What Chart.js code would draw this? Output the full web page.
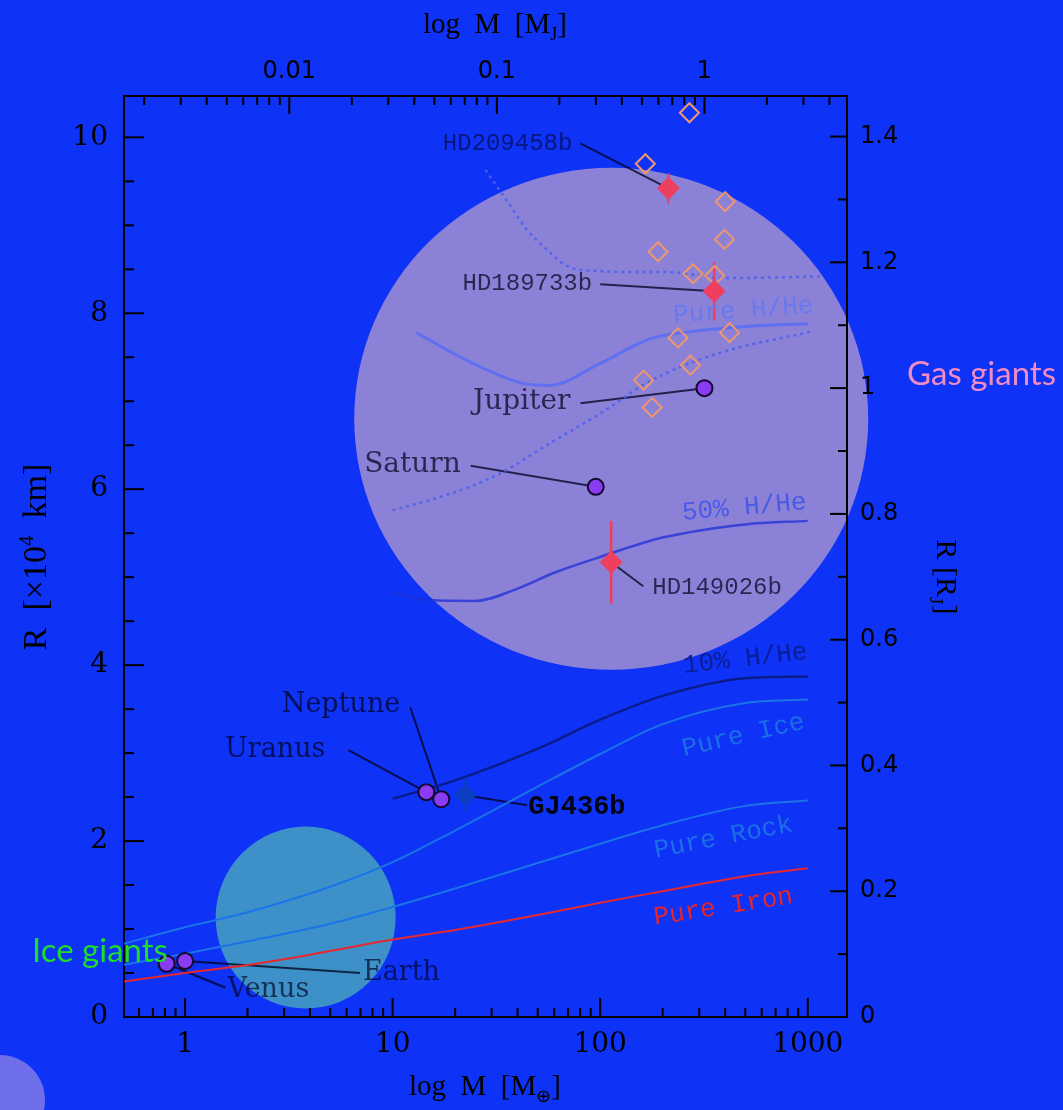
<!DOCTYPE html>
<html>
<head>
<meta charset="utf-8">
<script src="https://cdn.jsdelivr.net/npm/chart.js@4.4.1/dist/chart.umd.min.js"></script>
<style>
  html, body { margin: 0; padding: 0; background: #0e32f6; }
  #wrap { width: 1063px; height: 1110px; position: relative; }
</style>
</head>
<body>
<div id="wrap"><canvas id="chart"></canvas></div>
<script>
// ===== DATA =====
const ME_PER_MJ = 317.83;      // Earth masses in one Jupiter mass
const KM4_PER_RJ = 7.1492;     // Jupiter radius in 10^4 km

const xMin = 0.508, xMax = 1545;
const yMin = 0, yMax = 10.47;

const bottomTicks = [1, 10, 100, 1000];
const topTicks = [0.01, 0.1, 1];
const leftTicks = [0, 2, 4, 6, 8, 10];
const rightTicks = [0, 0.2, 0.4, 0.6, 0.8, 1, 1.2, 1.4];

// solar system planets
const solarNames = ['Venus', 'Earth', 'Uranus', 'Neptune', 'Saturn', 'Jupiter'];
const solarMass = [0.815, 1, 14.54, 17.15, 95.16, 317.8];
const solarRadius = [0.605, 0.637, 2.556, 2.476, 6.027, 7.149];

// labelled transiting planets
const hotNames = ['HD209458b', 'HD189733b', 'HD149026b', 'GJ436b'];
const hotMass = [213, 354, 113, 22.4];
const hotRadius = [9.42, 8.25, 5.17, 2.52];
const hotErr = [0.17, 0.33, 0.47, 0.2];

// other transiting planets (open diamonds)
const otherMass = [269, 165, 400, 397, 190, 280, 356, 420, 237, 272, 162, 178];
const otherRadius = [10.28, 9.70, 9.27, 8.84, 8.70, 8.45, 8.43, 7.78, 7.72, 7.41, 7.24, 6.93];

// model curves
const solidMass = [0.5, 1, 2, 5, 10, 20, 50, 100, 200, 500, 1000];
const ironRadius = [0.40, 0.50, 0.59, 0.75, 0.88, 0.99, 1.16, 1.30, 1.43, 1.60, 1.69];
const rockRadius = [0.59, 0.72, 0.86, 1.06, 1.25, 1.46, 1.75, 1.97, 2.18, 2.40, 2.46];
const iceRadius = [0.83, 1.02, 1.19, 1.48, 1.76, 2.12, 2.62, 2.99, 3.33, 3.57, 3.61];

const tenMass = [10, 20, 50, 100, 200, 500, 1000];
const tenRadius = [2.48, 2.69, 3.05, 3.38, 3.65, 3.85, 3.87];

const fiftyMass = [10, 15, 25, 40, 60, 100, 200, 500, 1000];
const fiftyRadius = [4.83, 4.74, 4.73, 4.87, 5.05, 5.23, 5.45, 5.60, 5.64];

const pureMass = [13, 23, 43, 57, 100, 174, 250, 500, 1000];
const pureRadius = [7.78, 7.46, 7.20, 7.18, 7.43, 7.71, 7.78, 7.85, 7.88];

const dotHiMass = [28, 35.5, 44, 55, 69, 96, 140, 200, 408, 1190];
const dotHiRadius = [9.63, 9.28, 8.96, 8.73, 8.54, 8.48, 8.47, 8.47, 8.40, 8.42];

const dotLoMass = [10, 19, 33, 57, 100, 174, 365, 1030];
const dotLoRadius = [5.76, 5.95, 6.18, 6.52, 6.86, 7.23, 7.54, 7.79];

// ===== STYLES =====
const bgBlue = '#0e32f6';
const hotColors = ['#ef3f5f', '#ef3f5f', '#ef3f5f', '#0c3ec4'];
const errColors = ['#ef3f5f', '#ef3f5f', '#ef3f5f', 'rgba(12,62,196,0.8)'];

const curves = [
  { mass: solidMass, radius: ironRadius, color: '#e8282c', width: 2 },
  { mass: solidMass, radius: rockRadius, color: '#1a74e8', width: 2 },
  { mass: solidMass, radius: iceRadius, color: '#1a74e8', width: 2 },
  { mass: tenMass, radius: tenRadius, color: '#0a1c8c', width: 2.5 },
  { mass: fiftyMass, radius: fiftyRadius, color: 'rgba(30,45,215,0.75)', width: 2.5 },
  { mass: pureMass, radius: pureRadius, color: '#5f6ff0', width: 3 },
  { mass: dotHiMass, radius: dotHiRadius, color: 'rgba(80,96,236,0.9)', width: 2.5, dash: [3, 4] },
  { mass: dotLoMass, radius: dotLoRadius, color: 'rgba(80,96,236,0.9)', width: 2.5, dash: [3, 4] }
];

// translucent highlight discs
const highlights = [
  { m: 113, r: 6.80, rx: 257, ry: 251, color: '#8b82d8' },
  { m: 3.81, r: 1.13, rx: 90, ry: 91, color: '#3e91c8' },
  { px: 0, py: 1100, rx: 45, ry: 45, color: '#6e6eeb' }
];

// labels with leader lines (offsets in px from the marker)
const nameFont = '27px "DejaVu Serif"';
const monoFont = '24px "Liberation Mono"';
const notes = [
  { name: 'HD209458b', dx: -96, dy: -45, align: 'right', lx: -88, ly: -45, font: monoFont, color: 'rgba(0,0,25,0.55)' },
  { name: 'HD189733b', dx: -122, dy: -8, align: 'right', lx: -114, ly: -7, font: monoFont, color: 'rgba(0,0,25,0.7)' },
  { name: 'HD149026b', dx: 41, dy: 25, align: 'left', lx: 32, ly: 24, font: monoFont, color: 'rgba(0,0,25,0.7)' },
  { name: 'GJ436b', dx: 63, dy: 12, align: 'left', lx: 62, ly: 10, font: 'bold 27px "Liberation Mono"', color: 'rgba(0,0,0,0.92)' },
  { name: 'Jupiter', dx: -134, dy: 14, align: 'right', lx: -124, ly: 15, font: '28px "DejaVu Serif"', color: 'rgba(0,0,25,0.7)' },
  { name: 'Saturn', dx: -135, dy: -22, align: 'right', lx: -125, ly: -21, font: '28px "DejaVu Serif"', color: 'rgba(0,0,25,0.7)' },
  { name: 'Neptune', dx: -41, dy: -94, align: 'right', lx: -31, ly: -92, font: nameFont, color: 'rgba(0,0,25,0.7)' },
  { name: 'Uranus', dx: -101, dy: -42, align: 'right', lx: -78, ly: -42, font: nameFont, color: 'rgba(0,0,25,0.7)' },
  { name: 'Earth', dx: 178, dy: 12, align: 'left', lx: 175, ly: 12, font: nameFont, color: 'rgba(0,0,25,0.65)' },
  { name: 'Venus', dx: 61, dy: 26, align: 'left', lx: 59, ly: 24, font: nameFont, color: 'rgba(0,0,25,0.65)' }
];

const curveNotes = [
  { text: 'Pure H/He', m: 489, r: 8.03, rot: -4, color: '#6a78ee' },
  { text: '50% H/He', m: 494, r: 5.79, rot: -5, color: '#4a5ae6' },
  { text: '10% H/He', m: 500, r: 4.07, rot: -6.5, color: '#0a1f96' },
  { text: 'Pure Ice', m: 489, r: 3.20, rot: -13, color: '#1a6fe6' },
  { text: 'Pure Rock', m: 392, r: 2.04, rot: -11, color: '#1a6fe6' },
  { text: 'Pure Iron', m: 392, r: 1.25, rot: -9, color: '#e3262c' }
];

// ===== LOOKUP =====
const where = {};
solarNames.forEach((n, i) => { where[n] = [solarMass[i], solarRadius[i]]; });
hotNames.forEach((n, i) => { where[n] = [hotMass[i], hotRadius[i]]; });

// ===== DATASETS =====
const datasets = [];

datasets.push({
  label: 'solar',
  data: solarMass.map((m, i) => ({ x: m, y: solarRadius[i] })),
  pointStyle: 'circle',
  pointRadius: 8,
  pointBackgroundColor: '#8a3cf5',
  pointBorderColor: '#14082e',
  pointBorderWidth: 2,
  order: 0
});

datasets.push({
  label: 'hot',
  data: hotMass.map((m, i) => ({ x: m, y: hotRadius[i] })),
  pointStyle: 'rectRot',
  pointRadius: 11.5,
  pointBackgroundColor: hotColors,
  pointBorderColor: hotColors,
  pointBorderWidth: 0,
  order: 0
});

datasets.push({
  label: 'others',
  data: otherMass.map((m, i) => ({ x: m, y: otherRadius[i] })),
  pointStyle: 'rectRot',
  pointRadius: 9.5,
  pointBackgroundColor: 'rgba(0,0,0,0)',
  pointBorderColor: '#f0966e',
  pointBorderWidth: 2,
  order: 1
});

hotMass.forEach((m, i) => {
  datasets.push({
    type: 'line',
    label: 'err ' + hotNames[i],
    data: [{ x: m, y: hotRadius[i] - hotErr[i] }, { x: m, y: hotRadius[i] + hotErr[i] }],
    borderColor: errColors[i],
    borderWidth: 2.5,
    pointRadius: 0,
    order: 2
  });
});

curves.forEach(c => {
  datasets.push({
    type: 'line',
    data: c.mass.map((m, i) => ({ x: m, y: c.radius[i] })),
    borderColor: c.color,
    borderWidth: c.width,
    borderDash: c.dash || [],
    pointRadius: 0,
    fill: false,
    cubicInterpolationMode: 'monotone',
    order: 3
  });
});

// ===== PLUGINS =====
const highlightPlugin = {
  id: 'highlights',
  beforeDraw(chart) {
    const { ctx, width, height } = chart;
    const { x, y } = chart.scales;
    ctx.save();
    ctx.fillStyle = bgBlue;
    ctx.fillRect(0, 0, width, height);
    highlights.forEach(h => {
      const cx = h.m != null ? x.getPixelForValue(h.m) : h.px;
      const cy = h.r != null ? y.getPixelForValue(h.r) : h.py;
      ctx.beginPath();
      ctx.ellipse(cx, cy, h.rx, h.ry, 0, 0, Math.PI * 2);
      ctx.fillStyle = h.color;
      ctx.fill();
    });
    ctx.restore();
  }
};

const notesPlugin = {
  id: 'notes',
  beforeDatasetsDraw(chart) {
    const { ctx } = chart;
    const { x, y } = chart.scales;
    ctx.save();
    ctx.strokeStyle = 'rgba(0,0,25,0.75)';
    ctx.lineWidth = 2;
    notes.forEach(n => {
      const [m, r] = where[n.name];
      const px = x.getPixelForValue(m), py = y.getPixelForValue(r);
      ctx.beginPath();
      ctx.moveTo(px, py);
      ctx.lineTo(px + n.lx, py + n.ly);
      ctx.stroke();
    });
    ctx.restore();
  },
  afterDatasetsDraw(chart) {
    const { ctx } = chart;
    const { x, y } = chart.scales;
    ctx.save();
    ctx.textBaseline = 'middle';
    notes.forEach(n => {
      const [m, r] = where[n.name];
      const px = x.getPixelForValue(m), py = y.getPixelForValue(r);
      ctx.font = n.font;
      ctx.fillStyle = n.color;
      ctx.textAlign = n.align;
      ctx.fillText(n.name, px + n.dx, py + n.dy);
    });
    ctx.font = '26px "Liberation Mono"';
    ctx.textAlign = 'center';
    curveNotes.forEach(c => {
      ctx.save();
      ctx.translate(x.getPixelForValue(c.m), y.getPixelForValue(c.r));
      ctx.rotate(c.rot * Math.PI / 180);
      ctx.fillStyle = c.color;
      ctx.fillText(c.text, 0, 0);
      ctx.restore();
    });
    ctx.restore();
  }
};

function logMarks(lo, hi) {
  const out = [];
  for (let e = Math.floor(Math.log10(lo)); e <= Math.ceil(Math.log10(hi)); e++) {
    for (let n = 1; n < 10; n++) {
      const v = n * Math.pow(10, e);
      if (v >= lo && v <= hi) out.push({ v, major: n === 1 });
    }
  }
  return out;
}

function linMarks(hi, step, every) {
  const out = [];
  for (let k = 0; k * step <= hi + 1e-9; k++) out.push({ v: k * step, major: k % every === 0 });
  return out;
}

function drawRich(ctx, parts, x, y, size, family) {
  const small = Math.round(size * 0.62);
  const widths = parts.map(([t, k]) => {
    ctx.font = (k ? small : size) + 'px ' + family;
    return ctx.measureText(t).width;
  });
  const total = widths.reduce((a, b) => a + b, 0);
  let cx = x - total / 2;
  ctx.textAlign = 'left';
  ctx.textBaseline = 'alphabetic';
  parts.forEach(([t, k], i) => {
    ctx.font = (k ? small : size) + 'px ' + family;
    const dy = k === 'sub' ? size * 0.25 : k === 'sup' ? -size * 0.38 : 0;
    ctx.fillText(t, cx, y + dy);
    cx += widths[i];
  });
}

const framePlugin = {
  id: 'frame',
  afterDraw(chart) {
    const { ctx, chartArea: a } = chart;
    const { x, y, x2, y2 } = chart.scales;
    ctx.save();
    ctx.strokeStyle = '#000';
    ctx.lineWidth = 2;
    const seg = (x0, y0, x1, y1) => { ctx.beginPath(); ctx.moveTo(x0, y0); ctx.lineTo(x1, y1); ctx.stroke(); };
    logMarks(xMin, xMax).forEach(t => {
      const p = x.getPixelForValue(t.v);
      seg(p, a.bottom, p, a.bottom - (t.major ? 19 : 9));
    });
    logMarks(xMin / ME_PER_MJ, xMax / ME_PER_MJ).forEach(t => {
      const p = x2.getPixelForValue(t.v);
      seg(p, a.top, p, a.top + (t.major ? 18 : 9));
    });
    linMarks(yMax, 0.5, 4).forEach(t => {
      const p = y.getPixelForValue(t.v);
      seg(a.left, p, a.left + (t.major ? 20 : 10), p);
    });
    linMarks(yMax / KM4_PER_RJ, 0.1, 2).forEach(t => {
      const p = y2.getPixelForValue(t.v);
      seg(a.right, p, a.right - (t.major ? 17 : 9), p);
    });

    // axis titles
    ctx.fillStyle = '#000';
    drawRich(ctx, [['log  M  [M', null], ['J', 'sub'], [']', null]], 495, 33, 29, '"Liberation Serif"');
    drawRich(ctx, [['log  M  [M', null], ['\u2295', 'sub'], [']', null]], 485, 1095, 29, '"Liberation Serif"');
    ctx.save();
    ctx.translate(46, 557);
    ctx.rotate(-Math.PI / 2);
    drawRich(ctx, [['R  [\u00d710', null], ['4', 'sup'], ['  km]', null]], 0, 0, 34, '"Liberation Serif"');
    ctx.restore();
    ctx.save();
    ctx.translate(937, 577);
    ctx.rotate(Math.PI / 2);
    drawRich(ctx, [['R [R', null], ['J', 'sub'], [']', null]], 0, 0, 30, '"Liberation Serif"');
    ctx.restore();

    // group captions
    ctx.font = '33px Lato';
    ctx.textAlign = 'left';
    ctx.textBaseline = 'alphabetic';
    ctx.fillStyle = '#f08cc4';
    ctx.fillText('Gas giants', 907, 385);
    ctx.fillStyle = '#1edc28';
    ctx.fillText('Ice giants', 32, 962);
    ctx.restore();
  }
};

// ===== CHART =====
const serifTick = { family: 'DejaVu Serif', size: 28 };
const sansTick = { family: 'DejaVu Sans', size: 24 };
const border = { display: true, color: '#000', width: 2 };
const noGrid = { display: false, drawTicks: false };

new Chart(document.getElementById('chart'), {
  type: 'scatter',
  data: { datasets },
  options: {
    responsive: true,
    maintainAspectRatio: false,
    animation: false,
    events: [],
    layout: { padding: 0 },
    plugins: { legend: { display: false }, tooltip: { enabled: false } },
    scales: {
      x: {
        type: 'logarithmic', position: 'bottom', axis: 'x', bounds: 'data',
        min: xMin, max: xMax, grid: noGrid, border,
        afterBuildTicks: s => { s.ticks = bottomTicks.map(v => ({ value: v })); },
        afterFit: s => { s.height = 93; },
        ticks: { autoSkip: false, maxRotation: 0, padding: 11, color: '#000', font: serifTick, callback: v => String(v) }
      },
      x2: {
        type: 'logarithmic', position: 'top', axis: 'x', bounds: 'data',
        min: xMin / ME_PER_MJ, max: xMax / ME_PER_MJ, grid: noGrid, border,
        afterBuildTicks: s => { s.ticks = topTicks.map(v => ({ value: v })); },
        afterFit: s => { s.height = 96; },
        ticks: { autoSkip: false, maxRotation: 0, padding: 10, color: '#000', font: sansTick, callback: v => String(v) }
      },
      y: {
        type: 'linear', position: 'left', axis: 'y', bounds: 'data',
        min: yMin, max: yMax, grid: noGrid, border,
        afterBuildTicks: s => { s.ticks = leftTicks.map(v => ({ value: v })); },
        afterFit: s => { s.width = 124; },
        ticks: { autoSkip: false, padding: 16, color: '#000', font: serifTick, callback: v => String(v) }
      },
      y2: {
        type: 'linear', position: 'right', axis: 'y', bounds: 'data',
        min: yMin / KM4_PER_RJ, max: yMax / KM4_PER_RJ, grid: noGrid, border,
        afterBuildTicks: s => { s.ticks = rightTicks.map(v => ({ value: v })); },
        afterFit: s => { s.width = 216; },
        ticks: {
          autoSkip: false, padding: 13, color: '#000', font: sansTick,
          callback: v => (v === 0 || v === 1) ? String(v) : v.toFixed(1)
        }
      }
    }
  },
  plugins: [highlightPlugin, notesPlugin, framePlugin]
});
</script>
</body>
</html>
